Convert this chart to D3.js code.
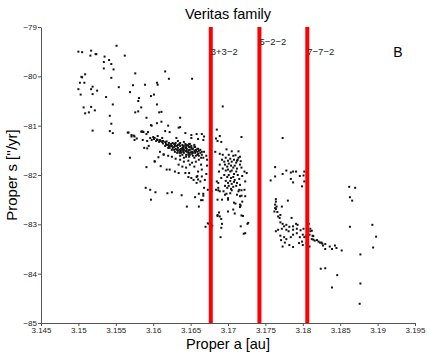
<!DOCTYPE html>
<html>
<head>
<meta charset="utf-8">
<script src="https://d3js.org/d3.v7.min.js"></script>
<style>
body { margin: 0; background: #fff; }
text { font-family: "Liberation Sans", Arial, sans-serif; }
</style>
</head>
<body>
<div id="my_dataviz"></div>
<script>

// proper elements [a (au), s ("/yr)], grouped by region
const sparseWest = [
  [3.1551,-79.38],[3.1500,-79.50],[3.1505,-79.51],[3.1517,-79.48],[3.1516,-79.58],[3.1523,-79.55],
  [3.1524,-79.55],[3.1535,-79.60],[3.1541,-79.67],[3.1562,-79.58],[3.1534,-79.71],[3.1544,-79.75],
  [3.1534,-79.84],[3.1547,-79.86],[3.1616,-79.90],[3.1576,-79.94],[3.1509,-79.96],[3.1504,-80.01],
  [3.1505,-80.02],[3.1621,-80.05],[3.1652,-80.05],[3.1544,-80.03],[3.1502,-80.13],[3.1508,-80.13],
  [3.1573,-80.18],[3.1589,-80.17],[3.1605,-80.13],[3.1606,-80.17],[3.1554,-80.22],[3.1519,-80.21],
  [3.1517,-80.26],[3.1500,-80.26],[3.1525,-80.29],[3.1569,-80.32],[3.1601,-80.37],[3.1597,-80.40],
  [3.1503,-80.37],[3.1519,-80.36],[3.1537,-80.42],[3.1581,-80.44],[3.1580,-80.50],[3.1546,-80.57],
  [3.1605,-80.57],[3.1507,-80.63],[3.1517,-80.62],[3.1522,-80.69],[3.1584,-80.63],[3.1514,-80.73],
  [3.1509,-80.75],[3.1576,-80.73],[3.1580,-80.71],[3.1608,-80.73],[3.1611,-80.72],[3.1542,-80.80],
  [3.1591,-80.84],[3.1636,-80.84],[3.1693,-80.61],
  [3.1544,-80.96],[3.1519,-81.10],[3.1542,-81.11],[3.1546,-81.15],[3.1567,-81.14],[3.1571,-81.22],
  [3.1574,-81.20],[3.1578,-81.26],[3.1575,-81.29],[3.1584,-81.12],[3.1586,-81.12],[3.1591,-81.17],
  [3.1586,-81.29],[3.1592,-81.31],[3.1588,-81.45],[3.1592,-81.46],[3.1594,-81.41],[3.1542,-81.57],
  [3.1569,-81.65],[3.1591,-81.84],[3.1590,-82.26],[3.1596,-82.30],[3.1603,-82.35],[3.1597,-82.50],
  [3.1619,-82.37],[3.1625,-82.35],[3.1638,-82.41],[3.1645,-82.64],[3.1656,-82.45],[3.1661,-82.38],
  [3.1667,-82.38],[3.1664,-82.51],[3.1666,-82.51],[3.1661,-82.64],[3.1673,-82.98],[3.1670,-83.05],
  [3.1673,-82.30]
];

const clusterWest = [
  [3.1566,-81.14],[3.1571,-81.19],[3.1575,-81.22],[3.1585,-81.12],[3.1587,-81.13],[3.1598,-81.00],
  [3.1605,-80.95],[3.1611,-80.92],[3.1597,-80.99],[3.1620,-81.00],[3.1636,-81.03],[3.1634,-81.04],
  [3.1616,-81.11],[3.1622,-81.13],[3.1643,-81.15],[3.1651,-81.19],[3.1658,-81.17],[3.1665,-81.17],
  [3.1668,-81.22],[3.1651,-81.25],[3.1631,-81.25],[3.1593,-81.13],[3.1606,-81.21],[3.1612,-81.25],
  [3.1667,-81.29],[3.1660,-81.27],
  [3.1596,-81.25],[3.1598,-81.29],[3.1601,-81.27],[3.1604,-81.31],[3.1605,-81.28],[3.1608,-81.33],
  [3.1609,-81.29],[3.1612,-81.33],[3.1613,-81.36],[3.1616,-81.33],[3.1617,-81.37],[3.1618,-81.32],
  [3.1620,-81.39],[3.1621,-81.35],[3.1622,-81.40],[3.1624,-81.37],[3.1625,-81.41],[3.1626,-81.35],
  [3.1628,-81.43],[3.1629,-81.39],[3.1630,-81.35],[3.1632,-81.41],[3.1633,-81.45],[3.1635,-81.37],
  [3.1636,-81.41],[3.1637,-81.47],[3.1639,-81.39],[3.1640,-81.43],[3.1641,-81.49],[3.1643,-81.45],
  [3.1644,-81.41],[3.1645,-81.47],[3.1647,-81.51],[3.1648,-81.43],[3.1649,-81.49],[3.1651,-81.45],
  [3.1652,-81.53],[3.1653,-81.47],[3.1655,-81.51],[3.1656,-81.55],[3.1657,-81.49],[3.1659,-81.53],
  [3.1660,-81.57],[3.1661,-81.51],[3.1663,-81.55],[3.1665,-81.59],[3.1668,-81.53],[3.1671,-81.61],
  [3.1630,-81.47],[3.1633,-81.51],[3.1636,-81.53],[3.1639,-81.49],[3.1641,-81.55],[3.1644,-81.51],
  [3.1647,-81.55],[3.1649,-81.59],[3.1652,-81.57],[3.1643,-81.37],[3.1645,-81.39],[3.1648,-81.37],
  [3.1651,-81.41],[3.1640,-81.53],[3.1635,-81.49],[3.1637,-81.55],[3.1628,-81.49],[3.1644,-81.59],
  [3.1653,-81.61],[3.1656,-81.43],[3.1659,-81.47],[3.1622,-81.45],[3.1625,-81.49],[3.1620,-81.45],
  [3.1632,-81.55],[3.1648,-81.63],[3.1655,-81.65],[3.1636,-81.61],[3.1641,-81.65],
  [3.1628,-81.37],[3.1630,-81.41],[3.1633,-81.39],[3.1636,-81.35],[3.1639,-81.45],[3.1641,-81.41],
  [3.1644,-81.45],[3.1647,-81.41],[3.1649,-81.43],[3.1652,-81.47],[3.1655,-81.43],[3.1657,-81.51],
  [3.1660,-81.47],[3.1640,-81.47],[3.1643,-81.51],[3.1645,-81.53],[3.1648,-81.49],[3.1651,-81.53],
  [3.1653,-81.55],[3.1656,-81.51],[3.1659,-81.59],[3.1661,-81.61],[3.1637,-81.51],[3.1635,-81.55],
  [3.1632,-81.49],[3.1629,-81.53],[3.1626,-81.45],[3.1624,-81.41],[3.1621,-81.43],[3.1618,-81.39],
  [3.1616,-81.41],[3.1613,-81.31],[3.1610,-81.31],[3.1606,-81.29],[3.1602,-81.25],[3.1600,-81.23],
  [3.1647,-81.59],[3.1649,-81.55],[3.1639,-81.59],[3.1644,-81.63],[3.1663,-81.49],[3.1665,-81.53],
  [3.1664,-81.65],[3.1657,-81.61],[3.1633,-81.31],[3.1641,-81.33],[3.1649,-81.37],[3.1655,-81.39],
  [3.1609,-81.53],[3.1614,-81.59],[3.1620,-81.61],[3.1625,-81.63],[3.1630,-81.67],[3.1636,-81.69],
  [3.1641,-81.73],[3.1647,-81.71],[3.1652,-81.75],[3.1657,-81.73],[3.1661,-81.69],[3.1664,-81.79],
  [3.1655,-81.83],[3.1649,-81.79],[3.1644,-81.85],[3.1639,-81.83],[3.1629,-81.93],[3.1618,-81.89],
  [3.1602,-81.73],[3.1651,-82.06],[3.1654,-82.10],[3.1658,-82.16],[3.1663,-82.13],[3.1665,-82.03],
  [3.1668,-82.26],[3.1667,-82.42],[3.1660,-81.93],[3.1665,-81.89],[3.1671,-81.98],[3.1669,-82.10],
  [3.1659,-82.02],[3.1648,-81.96],[3.1672,-81.69],[3.1672,-81.81],[3.1667,-81.65],
  [3.1602,-81.72],[3.1607,-81.64],[3.1614,-81.58],[3.1610,-81.82],[3.1622,-81.89],[3.1634,-81.79],
  [3.1634,-81.96],[3.1643,-81.96],[3.1647,-82.04],[3.1658,-82.04],[3.1660,-82.09]
];

const clusterMiddle = [
  [3.1685,-81.08],[3.1684,-81.26],[3.1689,-81.21],[3.1691,-81.33],[3.1686,-81.31],[3.1718,-81.23],
  [3.1683,-81.53],[3.1689,-81.57],[3.1698,-81.48],[3.1705,-81.52],[3.1710,-81.60],[3.1714,-81.65],
  [3.1712,-81.71],[3.1717,-81.72],[3.1718,-81.85],[3.1722,-81.93],[3.1714,-81.52],[3.1716,-81.63],
  [3.1725,-81.96],[3.1723,-82.13],[3.1722,-82.30],[3.1723,-82.43],[3.1687,-82.26],[3.1684,-82.30],
  [3.1685,-82.13],[3.1694,-82.33],[3.1703,-82.37],[3.1712,-82.40],[3.1692,-82.50],[3.1700,-82.50],
  [3.1708,-82.56],[3.1716,-82.60],[3.1707,-82.70],[3.1700,-82.74],[3.1718,-82.82],[3.1686,-82.81],
  [3.1689,-82.84],[3.1717,-83.04],[3.1727,-82.97],[3.1723,-83.18],[3.1690,-83.26],
  [3.1676,-82.31],[3.1678,-82.33],[3.1687,-82.31],[3.1689,-82.33],[3.1696,-82.40],[3.1698,-82.38],
  [3.1705,-82.31],[3.1714,-82.33],[3.1718,-82.31],[3.1716,-82.43],[3.1718,-82.42],[3.1686,-82.50],
  [3.1700,-82.47],[3.1719,-82.54],[3.1717,-82.62],[3.1710,-82.58],[3.1716,-82.65],[3.1688,-82.76],
  [3.1686,-82.83],[3.1709,-82.78],[3.1720,-82.83],[3.1691,-82.89],[3.1675,-82.99],[3.1679,-83.03],
  [3.1692,-82.99],[3.1691,-83.07],[3.1726,-82.99],[3.1721,-83.19],
  [3.1692,-81.69],[3.1695,-81.73],[3.1697,-81.65],[3.1700,-81.71],[3.1703,-81.67],[3.1705,-81.73],
  [3.1708,-81.69],[3.1711,-81.75],[3.1696,-81.79],[3.1699,-81.83],[3.1701,-81.77],[3.1704,-81.81],
  [3.1707,-81.85],[3.1709,-81.81],[3.1712,-81.87],[3.1693,-81.87],[3.1697,-81.91],[3.1700,-81.89],
  [3.1703,-81.93],[3.1705,-81.91],[3.1708,-81.98],[3.1711,-81.93],[3.1713,-82.00],[3.1695,-82.00],
  [3.1699,-82.04],[3.1701,-82.00],[3.1704,-82.06],[3.1707,-82.04],[3.1709,-82.10],[3.1697,-82.12],
  [3.1700,-82.16],[3.1703,-82.12],[3.1705,-82.18],[3.1708,-82.14],[3.1711,-82.22],[3.1696,-82.22],
  [3.1699,-82.26],[3.1701,-82.22],[3.1704,-82.28],[3.1707,-82.24],[3.1712,-82.16],[3.1715,-82.08],
  [3.1716,-81.79],[3.1719,-82.02],[3.1691,-82.06],[3.1688,-81.93],[3.1689,-81.79],[3.1713,-81.69],
  [3.1693,-81.59],[3.1701,-81.59],[3.1707,-81.61],[3.1687,-82.16],[3.1716,-82.20],[3.1715,-82.30]
];

const clusterEast = [
  [3.1763,-81.84],[3.1773,-81.98],[3.1778,-81.91],[3.1784,-81.95],[3.1787,-81.93],[3.1791,-81.93],
  [3.1796,-82.02],[3.1801,-82.01],[3.1763,-82.03],[3.1757,-82.11],[3.1784,-82.08],[3.1787,-82.15],
  [3.1802,-82.13],[3.1799,-82.23],[3.1780,-82.52],[3.1764,-82.49],[3.1764,-82.54],[3.1763,-82.60],
  [3.1765,-82.64],[3.1763,-82.67],[3.1764,-82.69],[3.1772,-82.64],[3.1762,-82.74],[3.1766,-82.75],
  [3.1767,-82.84],[3.1770,-82.81],[3.1769,-82.87],[3.1785,-82.87],[3.1770,-82.96],[3.1773,-82.99],
  [3.1775,-83.04],[3.1778,-83.01],[3.1782,-83.05],[3.1787,-83.04],[3.1791,-82.99],[3.1793,-83.01],
  [3.1767,-83.11],[3.1772,-83.09],[3.1778,-83.11],[3.1781,-83.14],[3.1787,-83.11],[3.1792,-83.09],
  [3.1797,-83.12],[3.1801,-83.09],[3.1807,-83.01],[3.1810,-83.09],[3.1764,-83.14],[3.1770,-83.23],
  [3.1775,-83.26],[3.1778,-83.30],[3.1784,-83.26],[3.1787,-83.21],[3.1792,-83.18],[3.1796,-83.26],
  [3.1800,-83.21],[3.1804,-83.24],[3.1809,-83.21],[3.1812,-83.30],[3.1814,-83.31],[3.1819,-83.32],
  [3.1821,-83.35],[3.1825,-83.37],[3.1830,-83.40],[3.1836,-83.45],[3.1843,-83.43],[3.1845,-83.48],
  [3.1773,-83.45],[3.1782,-83.42],[3.1787,-83.46],[3.1795,-83.38],[3.1800,-83.42],[3.1805,-83.38],
  [3.1809,-83.45],[3.1771,-83.32],[3.1776,-83.37],
  [3.1808,-82.99],[3.1812,-83.13],[3.1814,-83.24],[3.1816,-83.33],[3.1823,-83.37],[3.1826,-83.39],
  [3.1827,-83.43],[3.1830,-83.50],[3.1839,-83.50],[3.1852,-83.53],[3.1799,-83.35],[3.1802,-83.26],
  [3.1810,-83.14],[3.1813,-83.23],[3.1773,-81.25],[3.1802,-81.93]
];

const sparseEast = [
  [3.1862,-82.24],[3.1870,-82.26],[3.1863,-82.45],[3.1866,-82.52],[3.1863,-83.05],[3.1893,-83.01],
  [3.1898,-83.25],[3.1894,-83.47],[3.1877,-83.61],[3.1824,-83.90],[3.1830,-83.89],[3.1846,-84.03],
  [3.1839,-84.28],[3.1877,-84.20],[3.1876,-84.61]
];

// resonances (proper a of the red lines) and their names
const resonanceA = [3.1677, 3.1742, 3.1806];
const resonanceNames = ["3+3\u22122", "5\u22122\u22122", "7\u22127\u22122"];
const resonanceLabelS = [-79.51, -79.30, -79.51];

const xTicks = [3.145, 3.15, 3.155, 3.16, 3.165, 3.17, 3.175, 3.18, 3.185, 3.19, 3.195];
const yTicks = [-85, -84, -83, -82, -81, -80, -79];

const margin = {top: 27, right: 14, bottom: 31, left: 41},
    width = 429 - margin.left - margin.right,
    height = 354 - margin.top - margin.bottom;

const svg = d3.select("#my_dataviz")
  .append("svg")
    .attr("width", width + margin.left + margin.right)
    .attr("height", height + margin.top + margin.bottom)
  .append("g")
    .attr("transform", `translate(${margin.left},${margin.top})`);

const x = d3.scaleLinear().domain([3.145, 3.195]).range([0, width]);
const y = d3.scaleLinear().domain([-85, -79]).range([height, 0]);

// axes, matlab style (no box)
const xAxis = svg.append("g")
    .attr("transform", `translate(0,${height})`)
    .call(d3.axisBottom(x).tickValues(xTicks).tickSizeInner(3).tickSizeOuter(0).tickPadding(1)
      .tickFormat(d => String(d)));
const yAxis = svg.append("g")
    .call(d3.axisLeft(y).tickValues(yTicks).tickSizeInner(3).tickSizeOuter(0).tickPadding(1)
      .tickFormat(d => String(d).replace("-", "\u2212")));

[xAxis, yAxis].forEach(g => {
  g.select(".domain").attr("stroke", "#555");
  g.selectAll(".tick line").attr("stroke", "#555");
  g.selectAll(".tick text").attr("fill", "#222").style("font-size", "8px")
    .style("font-family", "'Liberation Sans', Arial, sans-serif");
});

// all the asteroids
const points = [].concat(sparseWest, clusterWest, clusterMiddle, clusterEast, sparseEast);
svg.append("g")
  .selectAll("rect")
  .data(points)
  .join("rect")
    .attr("x", d => x(d[0]) - 1)
    .attr("y", d => y(d[1]) - 1)
    .attr("width", 2)
    .attr("height", 2)
    .attr("fill", "#111");

// resonance lines
svg.append("g")
  .selectAll("line")
  .data(resonanceA)
  .join("line")
    .attr("x1", d => x(d)).attr("x2", d => x(d))
    .attr("y1", y(-85)).attr("y2", y(-79))
    .attr("stroke", "#ff0000")
    .attr("stroke-width", 4);

svg.append("g")
  .selectAll("text")
  .data(resonanceA)
  .join("text")
    .attr("x", d => x(d))
    .attr("y", (d, i) => y(resonanceLabelS[i]))
    .attr("dy", "0.35em")
    .style("font-size", "9.5px")
    .attr("fill", "#222")
    .text((d, i) => resonanceNames[i]);

svg.append("text")
    .attr("x", x(3.1921))
    .attr("y", y(-79.5))
    .attr("dy", "0.35em")
    .style("font-size", "14px")
    .text("B");

// titles
svg.append("text")
    .attr("x", width / 2)
    .attr("y", -8)
    .attr("text-anchor", "middle")
    .style("font-size", "14.5px")
    .text("Veritas family");

svg.append("text")
    .attr("x", width / 2)
    .attr("y", height + 25.5)
    .attr("text-anchor", "middle")
    .style("font-size", "14.5px")
    .text("Proper a [au]");

svg.append("text")
    .attr("transform", `translate(-24,${height / 2}) rotate(-90)`)
    .attr("text-anchor", "middle")
    .style("font-size", "15px")
    .text("Proper s [''/yr]");

</script>
</body>
</html>
